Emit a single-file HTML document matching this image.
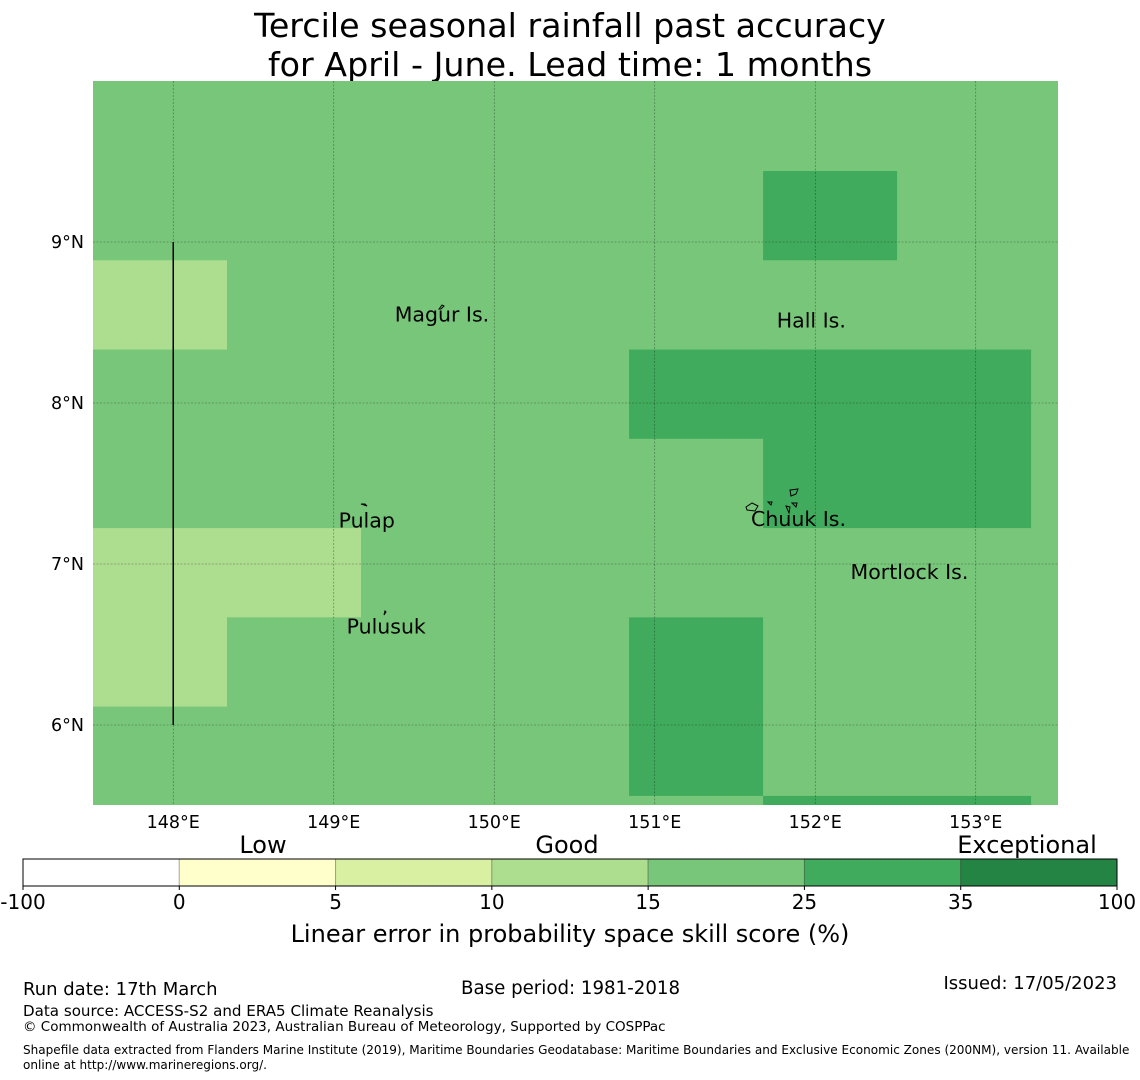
<!DOCTYPE html>
<html><head><meta charset="utf-8">
<style>
html,body{margin:0;padding:0;background:#fff;}
svg{display:block;font-family:"DejaVu Sans","Liberation Sans",sans-serif;}
</style></head>
<body>
<svg id="chart" width="1140" height="1080" viewBox="0 0 1140 1080" xmlns="http://www.w3.org/2000/svg">
  <text x="570" y="37" font-size="33.3" text-anchor="middle">Tercile seasonal rainfall past accuracy</text>
  <text x="570" y="76" font-size="33.3" text-anchor="middle">for April - June. Lead time: 1 months</text>
  <defs><clipPath id="mapclip"><rect x="93" y="81" width="965" height="724"/></clipPath></defs>
  <g id="map" clip-path="url(#mapclip)"></g>
  <g id="axes"></g>
  <g id="cbar"></g>
  <text x="263" y="853" font-size="24" text-anchor="middle">Low</text>
  <text x="567" y="853" font-size="24" text-anchor="middle">Good</text>
  <text x="1027" y="853" font-size="24" text-anchor="middle">Exceptional</text>
  <text x="570" y="942" font-size="24" text-anchor="middle">Linear error in probability space skill score (%)</text>
  <text x="23" y="995" font-size="18">Run date: 17th March</text>
  <text x="461" y="994" font-size="18.2">Base period: 1981-2018</text>
  <text x="1117" y="989" font-size="18" text-anchor="end">Issued: 17/05/2023</text>
  <text x="23" y="1016" font-size="15.1">Data source: ACCESS-S2 and ERA5 Climate Reanalysis</text>
  <text x="23" y="1031" font-size="13.5">© Commonwealth of Australia 2023, Australian Bureau of Meteorology, Supported by COSPPac</text>
  <text x="23" y="1054" font-size="12.05">Shapefile data extracted from Flanders Marine Institute (2019), Maritime Boundaries Geodatabase: Maritime Boundaries and Exclusive Economic Zones (200NM), version 11. Available</text>
  <text x="23" y="1069" font-size="12.05">online at http://www.marineregions.org/.</text>
</svg>
<script>
// ---- data ----
const binEdges = ["-100","0","5","10","15","25","35","100"];
const binColors = ["#ffffff","#ffffcc","#d9f0a3","#addd8e","#78c679","#41ab5d","#238443"];
// skill bin index per grid cell (rows from north to south, cols west to east)
const row0 = [4,4,4,4,4,4,4,4];
const row1 = [4,4,4,4,4,5,4,4];
const row2 = [3,4,4,4,4,4,4,4];
const row3 = [4,4,4,4,5,5,5,4];
const row4 = [4,4,4,4,4,5,5,4];
const row5 = [3,3,4,4,4,4,4,4];
const row6 = [3,4,4,4,5,4,4,4];
const row7 = [4,4,4,4,5,4,4,4];
const row8 = [4,4,4,4,4,5,5,4];
const lonTicks = [148,149,150,151,152,153];
const latTicks = [9,8,7,6];
const placeNames = ["Magur Is.","Hall Is.","Pulap","Chuuk Is.","Mortlock Is.","Pulusuk"];
const placeLons = [149.38,151.76,149.03,151.6,152.22,149.08];
const placeLats = [8.52,8.48,7.24,7.25,6.92,6.58];

// ---- axes ----
const LON0=147.5, LAT0=10.0, PXLON=160.5, PXLAT=161;
function xOf(lon){return 93+(lon-LON0)*PXLON;}
function yOf(lat){return 81+(LAT0-lat)*PXLAT;}
const NS="http://www.w3.org/2000/svg";
function mk(tag,attrs,parent){const e=document.createElementNS(NS,tag);for(const k in attrs)e.setAttribute(k,attrs[k]);parent.appendChild(e);return e;}

const map=document.getElementById('map');
const bg=mk('rect',{x:93,y:81,width:965,height:724,fill:binColors[4]},map);


const grid=[row0,row1,row2,row3,row4,row5,row6,row7,row8];
const dLon=0.835, dLat=0.5545, gridTop=9.9955;
grid.forEach((row,r)=>{row.forEach((v,c)=>{
  const x0=xOf(LON0+c*dLon), x1=xOf(LON0+(c+1)*dLon);
  const y0=yOf(gridTop-r*dLat), y1=yOf(gridTop-(r+1)*dLat);
  const el=mk('rect',{x:x0,y:y0,width:x1-x0+0.3,height:y1-y0+0.3,fill:binColors[v]},map);
  
  
});});
// gridlines
lonTicks.forEach(l=>{const ln=mk('line',{x1:xOf(l),x2:xOf(l),y1:81,y2:805,stroke:'#000','stroke-opacity':0.45,'stroke-width':0.6,'stroke-dasharray':'2,1.5'},map);
  
  });
latTicks.forEach(l=>{const ln=mk('line',{x1:93,x2:1058,y1:yOf(l),y2:yOf(l),stroke:'#000','stroke-opacity':0.45,'stroke-width':0.6,'stroke-dasharray':'2,1.5'},map);
  
  });
// boundary line
const bl=mk('line',{x1:xOf(148),x2:xOf(148),y1:yOf(9),y2:yOf(6),stroke:'#000','stroke-width':1.5},map);


// islands (small outlines)
const isl=[[442,307,'M439,309 l3,-4 l2,1 l-3,3 z'],[363,505,'M361,504 l4,0 l2,2 z'],[385,612,'M384,615 l1,-4 l1,1 z'],
 [793,491,'M790,490 l8,-1 l-2,5 l-5,2 z'],[755,507,'M746,507 l6,-4 l6,3 l-3,5 l-8,-1 z'],[795,505,'M792,503 l5,0 l-1,4 z'],[788,508,'M786,506 l4,1 l-1,6 z'],[771,503,'M768,502 l4,0 l-1,3 z']];
isl.forEach(i=>{const p=mk('path',{d:i[2],fill:'none',stroke:'#000','stroke-width':1},map);
  
  });
placeNames.forEach((n,i)=>{const t=mk('text',{x:xOf(placeLons[i]),y:yOf(placeLats[i])+2,'font-size':20.5},map);t.textContent=n;
  
  });

const axes=document.getElementById('axes');
lonTicks.forEach(l=>{const t=mk('text',{x:xOf(l),y:828,'font-size':17.5,'text-anchor':'middle'},axes);t.textContent=l+'°E';
  
  });
latTicks.forEach(l=>{const t=mk('text',{x:84,y:yOf(l)+6,'font-size':17.5,'text-anchor':'end'},axes);t.textContent=l+'°N';
  
  });

// colorbar
const cb=document.getElementById('cbar');
const cbX0=23, cbX1=1117, cbY=859, cbH=27, seg=(cbX1-cbX0)/binColors.length;
binColors.forEach((c,i)=>{const r=mk('rect',{x:cbX0+i*seg,y:cbY,width:seg,height:cbH,fill:c,stroke:'#000','stroke-opacity':0.25,'stroke-width':1},cb);
  
  });
const fr=mk('rect',{x:cbX0,y:cbY,width:cbX1-cbX0,height:cbH,fill:'none',stroke:'#000','stroke-width':1},cb);


binEdges.forEach((e,i)=>{const x=cbX0+i*seg;
  const tk=mk('line',{x1:x,x2:x,y1:cbY+cbH,y2:cbY+cbH+4,stroke:'#000'},cb);
  
  
  const t=mk('text',{x:x,y:909,'font-size':20,'text-anchor':'middle'},cb);t.textContent=e;
  
  });
</script>
</body></html>
